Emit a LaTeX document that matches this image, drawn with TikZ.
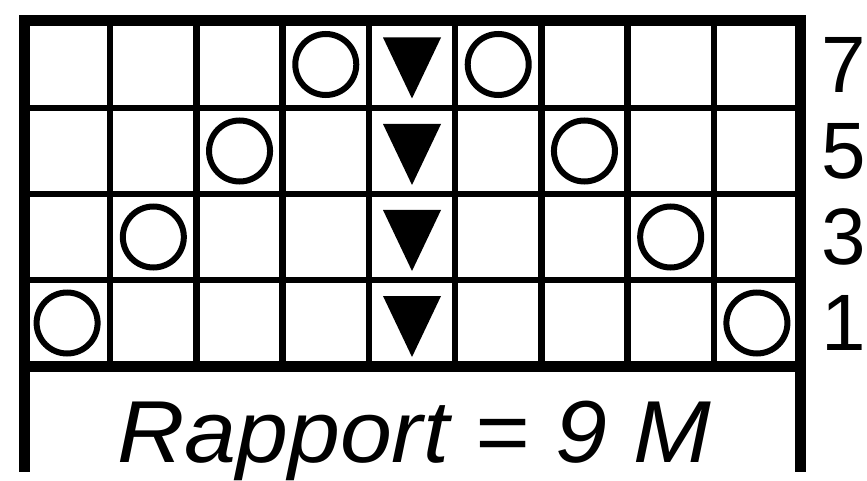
\documentclass[tikz,border=0pt]{standalone}
\usepackage{fontspec}
\setmainfont{Liberation Sans}
\begin{document}
\begin{tikzpicture}[x=1pt,y=-1pt,
  thin grid/.style={line width=6.5pt,black},
  thick frame/.style={line width=11pt,black},
  yo/.style={circle,draw=black,line width=6pt,minimum size=61pt,inner sep=0pt},
  rownum/.style={font=\fontsize{80}{80}\selectfont,inner sep=0pt,anchor=center}]
\useasboundingbox (0,0) rectangle (867,481);
\def\cw{86.222}
% inner grid lines
\foreach \i in {1,...,8} \draw[thin grid] ({24+\i*\cw},21) -- ({24+\i*\cw},366);
\foreach \yy in {108,194,280} \draw[thin grid] (24,\yy) -- (800,\yy);
% outer frame
\draw[thick frame,line cap=rect] (24,466) -- (24,21) -- (800,21) -- (800,466);
\draw[thick frame] (24,366) -- (800,366);
% circles (yarn overs)
\foreach \n/\c/\yy in {a/4/64.5,b/6/64.5,c/3/151,d/7/151,e/2/237,f/8/237,g/1/323,h/9/323}
  \node[yo] (yo\n) at ({24+(\c-0.5)*\cw},\yy) {};
% triangles
\foreach \n/\yy in {a/64.5,b/151,c/237,d/323}{
  \coordinate (tr\n) at ({24+4.5*\cw},\yy);
  \fill[black] ([xshift=-29pt,yshift=27pt]tr\n) -- ([xshift=29pt,yshift=27pt]tr\n) -- ([yshift=-34pt]tr\n) -- cycle;
}
% row numbers
\node[rownum] (n7) at (844,64.5) {7};
\node[rownum] (n5) at (844,151) {5};
\node[rownum] (n3) at (844,237) {3};
\node[rownum] (n1) at (844,323) {1};
% label
\node[font=\fontsize{88}{88}\selectfont\itshape,anchor=base,inner sep=0pt] (lab) at (414,462) {\scalebox{1.06}[1]{Rapport = 9 M}};
\end{tikzpicture}
\end{document}
